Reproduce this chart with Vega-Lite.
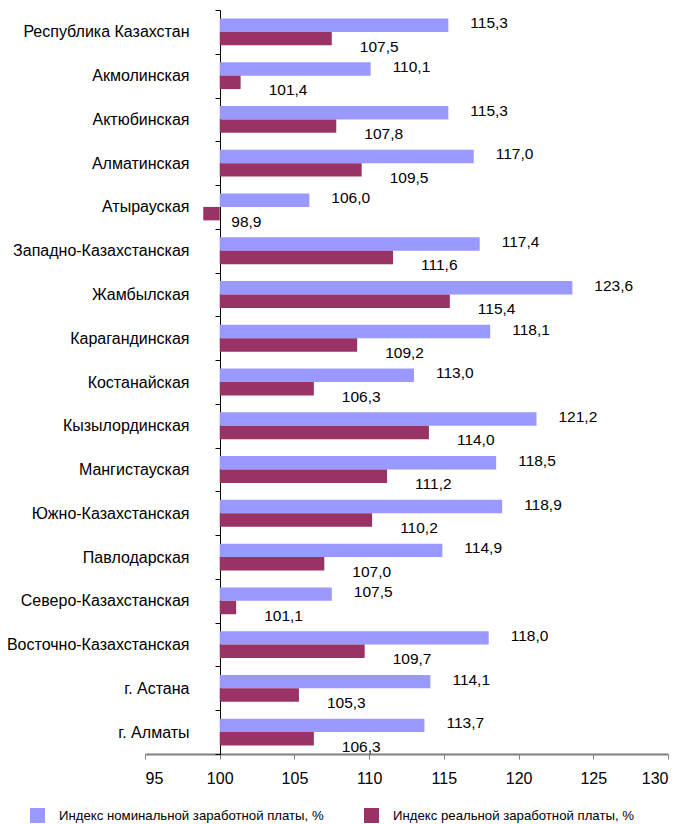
{
  "$schema": "https://vega.github.io/schema/vega-lite/v6.json",
  "autosize": {"type": "none"},
  "padding": {"left": 145, "top": 10, "right": 18, "bottom": 70},
  "width": 523,
  "height": 744,
  "background": "white",
  "config": {
    "font": "Liberation Sans",
    "view": {"stroke": null},
    "locale": {"number": {"decimal": ",", "thousands": " ", "grouping": [3], "currency": ["", ""]}}
  },
  "data": {
    "values": [
      {"region": "Республика Казахстан", "series": "Индекс номинальной заработной платы, %", "value": 115.3},
      {"region": "Республика Казахстан", "series": "Индекс реальной заработной платы, %", "value": 107.5},
      {"region": "Акмолинская", "series": "Индекс номинальной заработной платы, %", "value": 110.1},
      {"region": "Акмолинская", "series": "Индекс реальной заработной платы, %", "value": 101.4},
      {"region": "Актюбинская", "series": "Индекс номинальной заработной платы, %", "value": 115.3},
      {"region": "Актюбинская", "series": "Индекс реальной заработной платы, %", "value": 107.8},
      {"region": "Алматинская", "series": "Индекс номинальной заработной платы, %", "value": 117.0},
      {"region": "Алматинская", "series": "Индекс реальной заработной платы, %", "value": 109.5},
      {"region": "Атырауская", "series": "Индекс номинальной заработной платы, %", "value": 106.0},
      {"region": "Атырауская", "series": "Индекс реальной заработной платы, %", "value": 98.9},
      {"region": "Западно-Казахстанская", "series": "Индекс номинальной заработной платы, %", "value": 117.4},
      {"region": "Западно-Казахстанская", "series": "Индекс реальной заработной платы, %", "value": 111.6},
      {"region": "Жамбылская", "series": "Индекс номинальной заработной платы, %", "value": 123.6},
      {"region": "Жамбылская", "series": "Индекс реальной заработной платы, %", "value": 115.4},
      {"region": "Карагандинская", "series": "Индекс номинальной заработной платы, %", "value": 118.1},
      {"region": "Карагандинская", "series": "Индекс реальной заработной платы, %", "value": 109.2},
      {"region": "Костанайская", "series": "Индекс номинальной заработной платы, %", "value": 113.0},
      {"region": "Костанайская", "series": "Индекс реальной заработной платы, %", "value": 106.3},
      {"region": "Кызылординская", "series": "Индекс номинальной заработной платы, %", "value": 121.2},
      {"region": "Кызылординская", "series": "Индекс реальной заработной платы, %", "value": 114.0},
      {"region": "Мангистауская", "series": "Индекс номинальной заработной платы, %", "value": 118.5},
      {"region": "Мангистауская", "series": "Индекс реальной заработной платы, %", "value": 111.2},
      {"region": "Южно-Казахстанская", "series": "Индекс номинальной заработной платы, %", "value": 118.9},
      {"region": "Южно-Казахстанская", "series": "Индекс реальной заработной платы, %", "value": 110.2},
      {"region": "Павлодарская", "series": "Индекс номинальной заработной платы, %", "value": 114.9},
      {"region": "Павлодарская", "series": "Индекс реальной заработной платы, %", "value": 107.0},
      {"region": "Северо-Казахстанская", "series": "Индекс номинальной заработной платы, %", "value": 107.5},
      {"region": "Северо-Казахстанская", "series": "Индекс реальной заработной платы, %", "value": 101.1},
      {"region": "Восточно-Казахстанская", "series": "Индекс номинальной заработной платы, %", "value": 118.0},
      {"region": "Восточно-Казахстанская", "series": "Индекс реальной заработной платы, %", "value": 109.7},
      {"region": "г. Астана", "series": "Индекс номинальной заработной платы, %", "value": 114.1},
      {"region": "г. Астана", "series": "Индекс реальной заработной платы, %", "value": 105.3},
      {"region": "г. Алматы", "series": "Индекс номинальной заработной платы, %", "value": 113.7},
      {"region": "г. Алматы", "series": "Индекс реальной заработной платы, %", "value": 106.3}
    ]
  },
  "encoding": {
    "y": {
      "field": "region", "type": "nominal", "sort": null,
      "scale": {"paddingInner": 0, "paddingOuter": 0},
      "axis": {
        "title": null, "orient": "left", "offset": -75, "tickBand": "extent",
        "domainColor": "black", "domainWidth": 1, "tickColor": "black", "tickSize": 5,
        "labelFontSize": 16, "labelColor": "black", "labelPadding": 26, "labelLimit": 300
      }
    },
    "yOffset": {
      "field": "series", "type": "nominal", "sort": null,
      "scale": {"paddingInner": 0, "paddingOuter": 0.63}
    }
  },
  "layer": [
    {
      "mark": {"type": "bar"},
      "encoding": {
        "x": {
          "field": "value", "type": "quantitative",
          "scale": {"domain": [95, 130], "nice": false, "zero": false},
          "axis": {
            "title": null, "values": [95, 100, 105, 110, 115, 120, 125, 130], "format": "d",
            "grid": false, "domainColor": "#808080", "domainWidth": 2, "tickColor": "#808080",
            "tickSize": 5, "tickWidth": 1, "labelFontSize": 16, "labelColor": "black", "labelPadding": 11
          }
        },
        "x2": {"datum": 100},
        "color": {
          "field": "series", "type": "nominal", "sort": null,
          "scale": {"range": ["#9999FF", "#993366"]},
          "legend": {
            "title": null, "orient": "none", "legendX": -115, "legendY": 798,
            "direction": "horizontal", "symbolType": "square", "symbolSize": 225,
            "symbolStrokeWidth": 0, "labelFontSize": 13.2, "labelColor": "black", "labelOffset": 14,
            "columnPadding": 40, "labelLimit": 400
          }
        }
      }
    },
    {
      "transform": [{"filter": "datum.series === 'Индекс номинальной заработной платы, %'"}],
      "mark": {"type": "text", "align": "left", "baseline": "middle", "dx": 22, "dy": -2, "fontSize": 15.5, "color": "black"},
      "encoding": {
        "x": {"field": "value", "type": "quantitative"},
        "text": {"field": "value", "type": "quantitative", "format": ".1f"}
      }
    },
    {
      "transform": [{"filter": "datum.series === 'Индекс реальной заработной платы, %'"}],
      "mark": {"type": "text", "align": "left", "baseline": "middle", "dx": 28, "dy": 8, "fontSize": 15.5, "color": "black"},
      "encoding": {
        "x": {"field": "value", "type": "quantitative"},
        "text": {"field": "value", "type": "quantitative", "format": ".1f"}
      }
    }
  ]
}
